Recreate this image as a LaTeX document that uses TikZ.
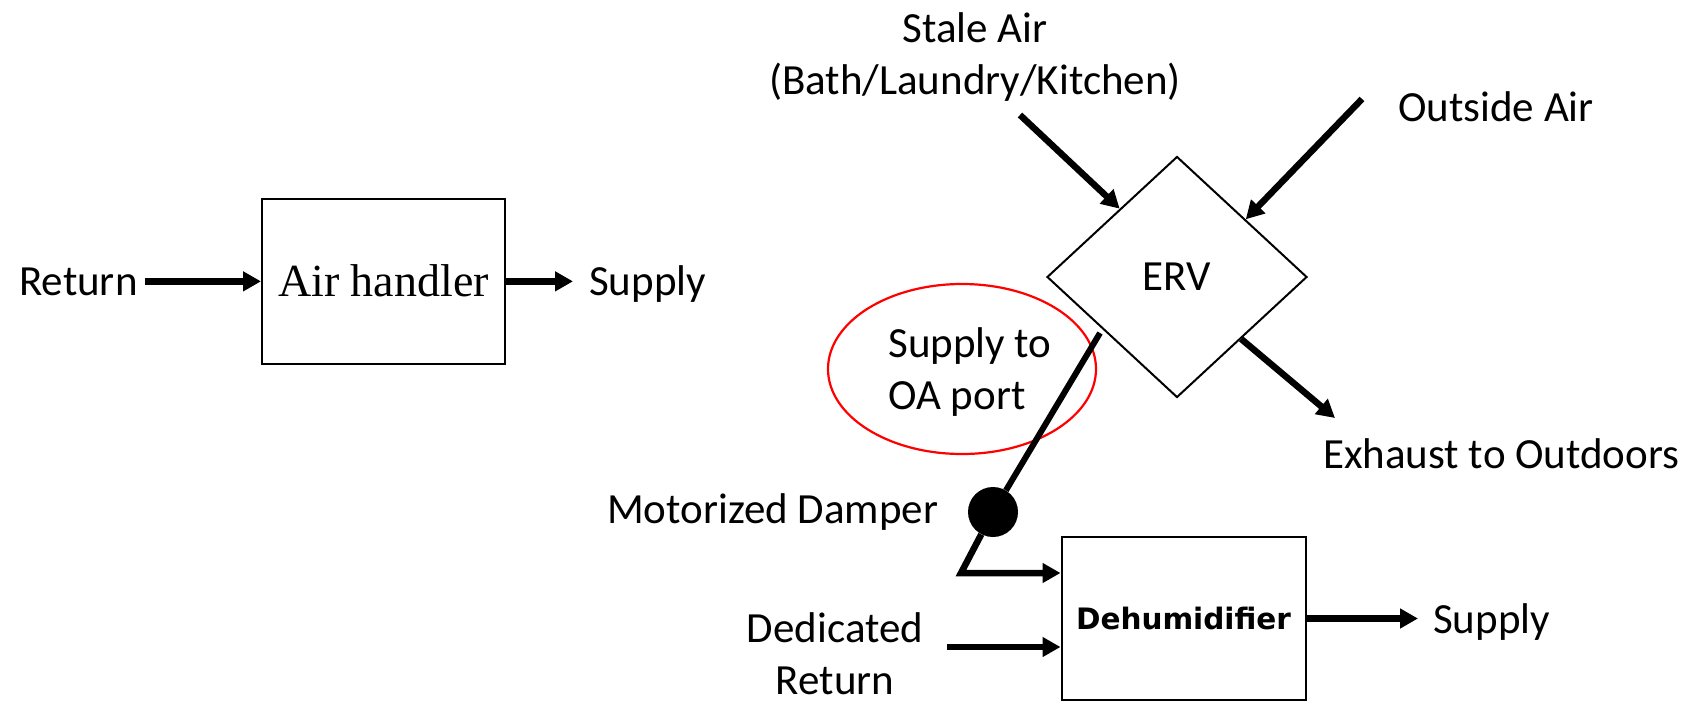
\documentclass[tikz,border=0pt]{standalone}
\usepackage{fontspec}
\setmainfont{Carlito}
\newfontfamily\ahfont{Liberation Serif}
\newfontfamily\dhfont{DejaVu Sans}
\usetikzlibrary{arrows.meta,shapes.geometric,calc}
\begin{document}
\begin{tikzpicture}[x=1pt,y=-1pt,
  lbl/.style={inner sep=0pt, font=\fontsize{43}{52}\selectfont},
  flow/.style={line width=6.5pt, -{Triangle[length=18pt,width=19pt]}},
  pipe/.style={line width=6pt},
  blk/.style={draw, line width=2pt, inner sep=0pt}]
\useasboundingbox (0,0) rectangle (1694,701);

% left: air handler
\node[lbl, anchor=base west] (ret) at (19,295) {Return};
\node[blk, minimum width=243pt, minimum height=165pt, font=\ahfont\fontsize{46}{50}\selectfont] (ah) at (383.5,281) {Air handler};
\node[lbl, anchor=base west] (sup1) at (589,295) {Supply};
\draw[flow, shorten <=7pt] (ret.east) -- (ret.east -| ah.west);
\draw[flow, shorten >=16pt] (ah.east |- ret.east) -- (ret.east -| sup1.west);

% right: ERV
\node[lbl, align=center] (stale) at (975,57) {Stale Air\\(Bath/Laundry/Kitchen)};
\node[lbl, anchor=base west] (oair) at (1398,121) {Outside Air};
\node[draw, diamond, line width=2pt, minimum width=260pt, minimum height=241pt, inner sep=0pt, font=\fontsize{43}{52}\selectfont] (erv) at (1177,277) {ERV};
\node[lbl, align=left] (oatext) at (970,372) {Supply to\\OA port};
\draw[red, line width=2.2pt] (962,369) ellipse [x radius=134pt, y radius=85pt];
\node[lbl, anchor=base west] (exh) at (1323,468) {Exhaust to Outdoors};
\node[lbl, anchor=base west] (mdl) at (607,523) {Motorized Damper};
\node[circle, fill, inner sep=0pt, minimum size=50pt] (damper) at (993,512) {};
\node[blk, minimum width=244pt, minimum height=163pt, font=\dhfont\bfseries\fontsize{29.5}{34}\selectfont] (dehum) at (1183.5,618.5) {Dehumidifier};
\node[lbl, align=center] (ded) at (835,654) {Dedicated\\Return};
\node[lbl, anchor=base west] (sup2) at (1433,633) {Supply};

\coordinate (stalestart) at (1020,115);
\coordinate (oastart) at (1362,99);
\coordinate (exhend) at (1335,418);
\coordinate (oatop) at (1100,333);
\coordinate (bend) at (961,573);
\coordinate (dedstart) at (947,647);

\draw[flow] (stalestart) -- (erv.130.6);
\draw[flow] (oastart) -- (erv.40.9);
\draw[flow] (erv.316.8) -- (exhend);
\draw[pipe] (oatop) -- (damper);
\draw[flow] (damper) -- (bend) -- (bend -| dehum.west);
\draw[flow] (dedstart) -- (dedstart -| dehum.west);
\draw[flow, shorten >=15pt] (dehum.east) -- (dehum.east -| sup2.west);
\end{tikzpicture}
\end{document}
